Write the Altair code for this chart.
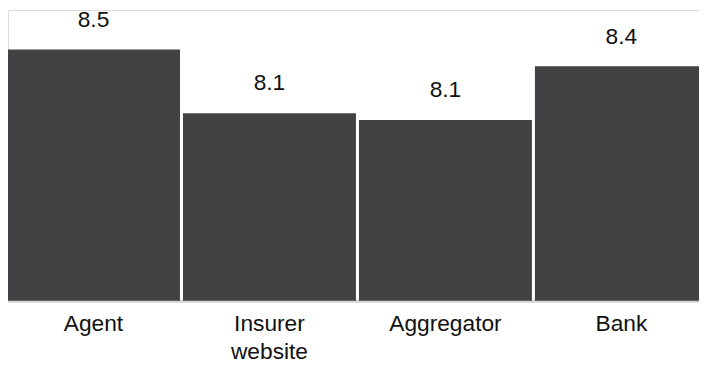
import altair as alt
import pandas as pd

categories = ["Agent", "Insurer website", "Aggregator", "Bank"]
scores = [8.5, 8.12, 8.08, 8.4]
baseline_value = 7

df = pd.DataFrame({"channel": categories, "score": scores})

FONT = "Liberation Sans"

x_enc = alt.X(
    "channel:N",
    sort=categories,
    scale=alt.Scale(range=[-1, 708], paddingInner=0.017, paddingOuter=0),
    axis=alt.Axis(
        title=None,
        ticks=False,
        domain=True,
        domainColor="#d3d3d3",
        domainWidth=3,
        labelAngle=0,
        labelFont=FONT,
        labelFontSize=23,
        labelColor="#111111",
        labelPadding=12,
        labelLineHeight=29,
        labelExpr="split(datum.label, ' ')",
        grid=False,
    ),
)
y_enc = alt.Y(
    "score:Q",
    scale=alt.Scale(domain=[7, 8.7365], zero=False, nice=False),
    axis=None,
)

bars = alt.Chart(df).mark_bar(color="#424244").encode(
    x=x_enc, y=y_enc, y2=alt.datum(baseline_value)
)
labels = alt.Chart(df).mark_text(
    dy=-23, baseline="alphabetic", align="center", fontSize=23, font=FONT, color="#111111"
).encode(x=x_enc, y=y_enc, text=alt.Text("score:Q", format=".1f"))

chart = (
    alt.layer(bars, labels)
    .properties(
        width=699,
        height=294,
        autosize=alt.AutoSizeParams(type="none"),
        padding={"left": 0, "top": 0, "right": 0, "bottom": 62},
    )
    .configure_view(stroke=None)
    .configure(background="white")
)

chart.save("out.html", embed_options={"renderer": "svg", "actions": False})
